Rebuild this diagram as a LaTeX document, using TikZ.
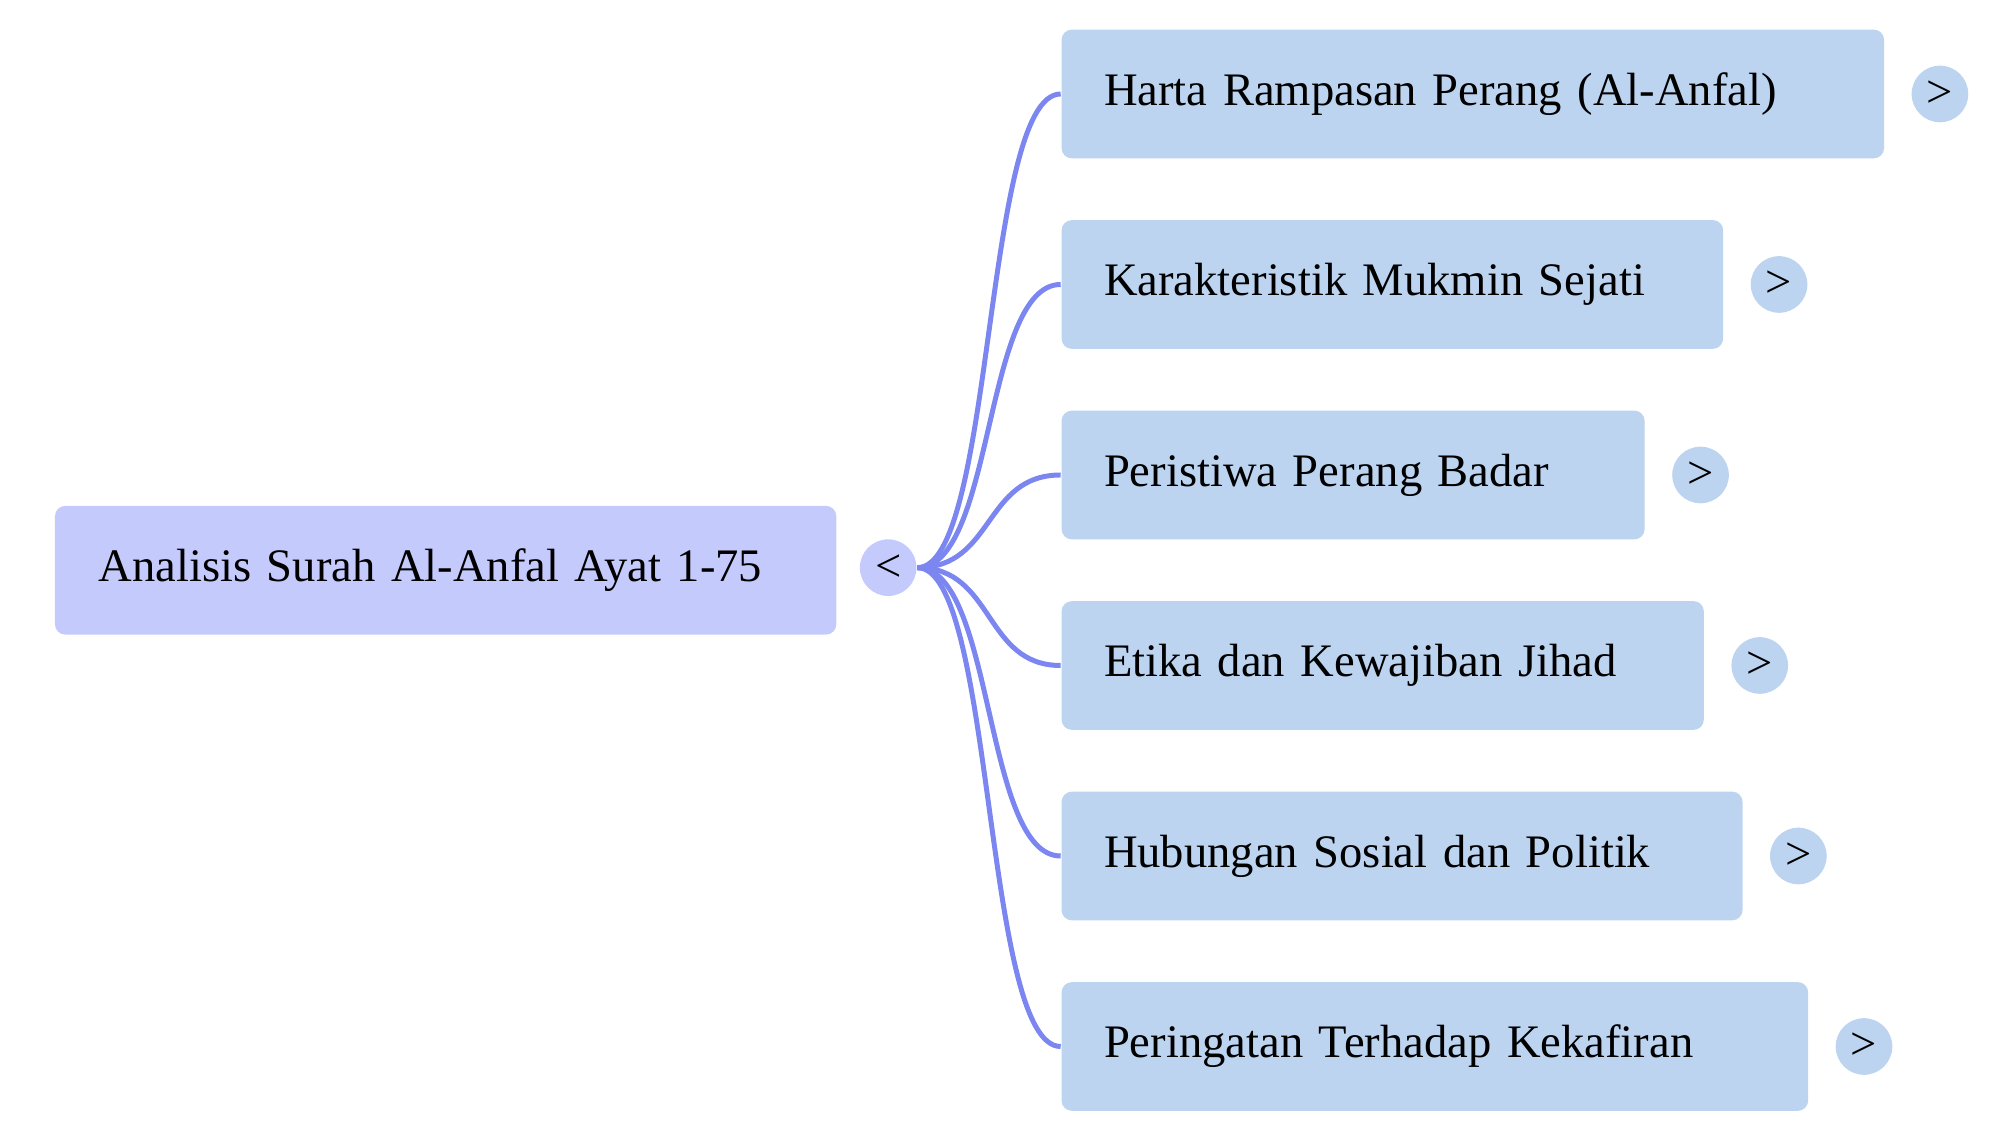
\documentclass[tikz,border=0pt]{standalone}
\usepackage{fontspec}
\setmainfont{Liberation Serif}
\usetikzlibrary{positioning}

\definecolor{rootfill}{HTML}{C5CAFC}
\definecolor{topicfill}{HTML}{BCD4F0}
\definecolor{linkblue}{HTML}{7B86F0}

\begin{document}
\begin{tikzpicture}[
    root node/.style={rectangle,rounded corners=0.08cm,fill=rootfill,font=\fontsize{10.3pt}{12pt}\selectfont,
        minimum height=1cm,inner xsep=0.34cm,align=left,anchor=west},
    topic node/.style={rectangle,rounded corners=0.08cm,fill=topicfill,font=\fontsize{10.3pt}{12pt}\selectfont,
        minimum height=1cm,inner xsep=0.33cm,align=left,anchor=west},
    toggle node/.style={circle,fill=#1,minimum size=0.44cm,inner sep=0pt,font=\fontsize{10.3pt}{12pt}\selectfont},
    toggle node/.default=topicfill,
    link/.style={draw=linkblue,line width=1.1pt}
]
\useasboundingbox (0,0) rectangle (15.6,-8.83);

% Root
\node[root node,text width=5.39cm] (root) at (0.42,-4.43) {Analisis Surah Al-Anfal Ayat 1-75};
\node[toggle node=rootfill] (roottoggle) at (6.9,-4.41) {<};

% Topics
\node[topic node,text width=5.73cm] (t1) at (8.24,-0.73) {Harta Rampasan Perang (Al-Anfal)};
\node[topic node,text width=4.48cm] (t2) at (8.24,-2.21) {Karakteristik Mukmin Sejati};
\node[topic node,text width=3.87cm] (t3) at (8.24,-3.69) {Peristiwa Perang Badar};
\node[topic node,text width=4.33cm] (t4) at (8.24,-5.17) {Etika dan Kewajiban Jihad};
\node[topic node,text width=4.63cm] (t5) at (8.24,-6.65) {Hubungan Sosial dan Politik};
\node[topic node,text width=5.14cm] (t6) at (8.24,-8.13) {Peringatan Terhadap Kekafiran};

% Toggles
\foreach \i in {1,...,6}
  \node[toggle node,right=0.2cm of t\i] (g\i) {>};

% Links
\foreach \i in {1,...,6}
  \draw[link] (roottoggle.east) .. controls +(0.6,0) and +(-0.6,0) .. (t\i.west);

\end{tikzpicture}
\end{document}
